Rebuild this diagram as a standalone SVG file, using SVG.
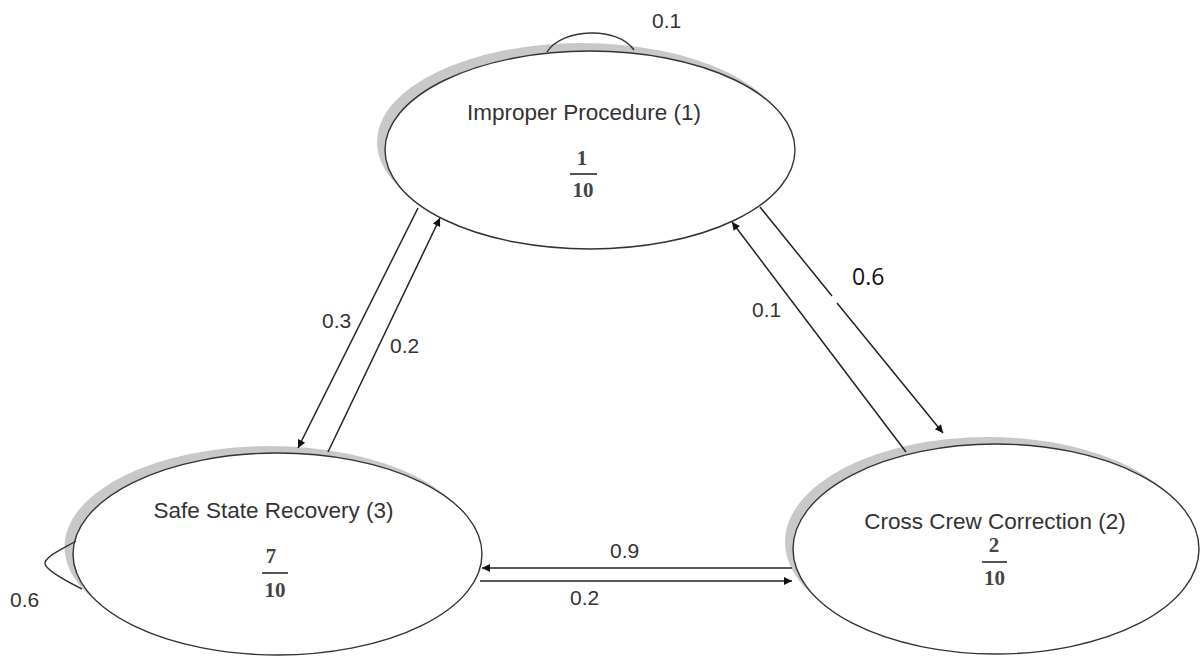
<svg xmlns="http://www.w3.org/2000/svg" width="1200" height="657" viewBox="0 0 1200 657">
<style>
.shadow{fill:#c8c8c8}
.node{fill:#fff;stroke:#333;stroke-width:1.4}
.title{font-family:"Liberation Sans",Arial,sans-serif;font-size:22.5px;fill:#333;text-anchor:middle}
.frac{font-family:"Liberation Serif","Times New Roman",serif;font-size:21px;font-weight:bold;fill:#444;text-anchor:middle}
.bar{stroke:#555;stroke-width:2}
.edge{fill:none;stroke:#222;stroke-width:1.5}
.loop{fill:none;stroke:#333;stroke-width:1.4}
.el{font-family:"Liberation Sans",Arial,sans-serif;font-size:21px;fill:#333}
.el2{font-family:"Open Sans","Liberation Sans",sans-serif;font-size:23px;fill:#111}
</style>
<defs>
<marker id="arr" viewBox="0 0 10 10" refX="10" refY="5" markerWidth="11" markerHeight="8" markerUnits="userSpaceOnUse" orient="auto"><path d="M0,0 L10,5 L0,10 z" fill="#111"/></marker>
</defs>
<rect width="1200" height="657" fill="#fff"/>

<g id="node1">
<ellipse class="shadow" cx="582" cy="142" rx="205" ry="99"/>
<ellipse class="node" cx="590" cy="150" rx="205" ry="99"/>
<text class="title" x="584" y="120">Improper Procedure (1)</text>
<text class="frac" x="582" y="165">1</text>
<line class="bar" x1="570" y1="174" x2="597" y2="174"/>
<text class="frac" x="583" y="197">10</text>
</g>

<g id="node3">
<ellipse class="shadow" cx="269.5" cy="547" rx="205" ry="101"/>
<ellipse class="node" cx="277.5" cy="554" rx="204.5" ry="101"/>
<text class="title" x="273.5" y="518">Safe State Recovery (3)</text>
<text class="frac" x="271" y="563">7</text>
<line class="bar" x1="262" y1="573" x2="288" y2="573"/>
<text class="frac" x="275" y="597">10</text>
</g>

<g id="node2">
<ellipse class="shadow" cx="988" cy="542" rx="203" ry="105"/>
<ellipse class="node" cx="996" cy="549" rx="203" ry="105"/>
<text class="title" x="995" y="529">Cross Crew Correction (2)</text>
<text class="frac" x="994" y="552">2</text>
<line class="bar" x1="982" y1="562" x2="1007" y2="562"/>
<text class="frac" x="994.5" y="585">10</text>
</g>

<g id="connectors">
<path class="loop" d="M547,52 C562,28 618,26 634,50"/>
<path class="loop" d="M76,541 C62,549 44,557 45,564 C47,571 68,582 82,589"/>
<line class="edge" x1="418" y1="208" x2="298" y2="448" marker-end="url(#arr)"/>
<line class="edge" x1="328" y1="452" x2="440" y2="218" marker-end="url(#arr)"/>
<line class="edge" x1="906" y1="452" x2="732" y2="222" marker-end="url(#arr)"/>
<line class="edge" x1="760" y1="207" x2="832" y2="296"/>
<line class="edge" x1="837" y1="303" x2="943" y2="433" marker-end="url(#arr)"/>
<line class="edge" x1="792" y1="568" x2="482" y2="568" marker-end="url(#arr)"/>
<line class="edge" x1="480" y1="581" x2="792" y2="581" marker-end="url(#arr)"/>
</g>

<g id="labels">
<text class="el" x="652" y="28">0.1</text>
<text class="el" x="10" y="607">0.6</text>
<text class="el" x="322" y="328">0.3</text>
<text class="el" x="390" y="353">0.2</text>
<text class="el" x="752" y="317">0.1</text>
<text class="el2" x="852" y="285">0.6</text>
<text class="el" x="610" y="558">0.9</text>
<text class="el" x="570" y="605">0.2</text>
</g>
</svg>
